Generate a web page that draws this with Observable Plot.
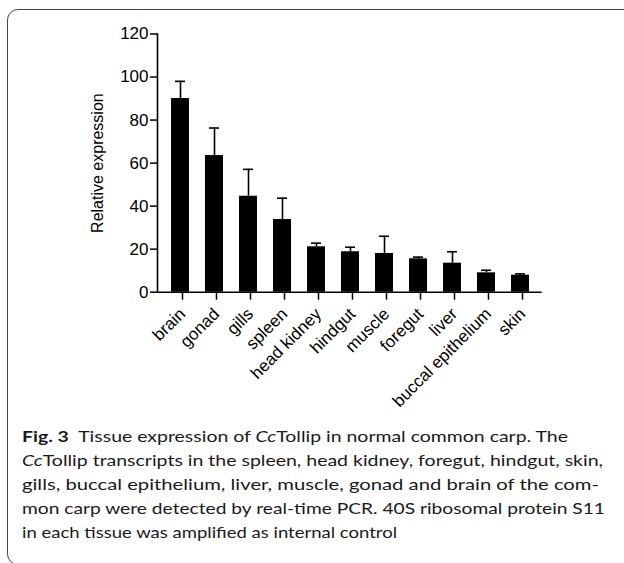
<!DOCTYPE html>
<html>
<head>
<meta charset="utf-8">
<script src="https://cdn.jsdelivr.net/npm/d3@7"></script>
<script src="https://cdn.jsdelivr.net/npm/@observablehq/plot@0.6"></script>
<style>
  html, body { margin: 0; padding: 0; background: #fff; }
  body { width: 624px; height: 563px; position: relative; overflow: hidden; }
  #box { position: absolute; left: 6.5px; top: 9px; width: 640px; height: 556px;
         border: 1.3px solid #444; border-radius: 11px; box-sizing: border-box; }
  #chart { position: absolute; left: 0; top: 0; }
  #chart svg text { font-family: "Liberation Sans", Arial, sans-serif !important; }
  #chart svg .ytl text { font-size: 17px !important; }
  #chart svg .xtl text { font-size: 17px !important; }
  #chart svg .ylab text { font-size: 17px !important; }
  #caption { position: absolute; left: 22px; top: 424.3px; font-family: "Lato", sans-serif;
             font-size: 15px; line-height: 24px; color: #1a1a1a; }
  #caption .ln { white-space: nowrap; transform-origin: 0 50%; }
  #caption .ln span { display: inline-block; }
</style>
</head>
<body>
<div id="box"></div>
<div id="chart"></div>
<div id="caption">
  <div class="ln" data-w="546"><span><b>Fig. 3</b>&nbsp; Tissue expression of <i>Cc</i>Tollip in normal common carp. The</span></div>
  <div class="ln" data-w="581"><span><i>Cc</i>Tollip transcripts in the spleen, head kidney, foregut, hindgut, skin,</span></div>
  <div class="ln" data-w="577"><span>gills, buccal epithelium, liver, muscle, gonad and brain of the com-</span></div>
  <div class="ln" data-w="583"><span>mon carp were detected by real-time PCR. 40S ribosomal protein S11</span></div>
  <div class="ln" data-w="375"><span>in each tissue was amplified as internal control</span></div>
</div>
<script>
const tissues = ["brain", "gonad", "gills", "spleen", "head kidney", "hindgut", "muscle", "foregut", "liver", "buccal epithelium", "skin"];
const means = [90, 63.5, 44.6, 33.8, 21.1, 18.8, 18.0, 15.5, 13.5, 9.0, 7.9];
const errors = [8, 12.8, 12.5, 9.9, 1.7, 2.1, 8.0, 0.8, 5.3, 1.2, 0.6];
const yTicks = [0, 20, 40, 60, 80, 100, 120];

const data = tissues.map((t, i) => ({tissue: t, mean: means[i], top: means[i] + errors[i]}));

const chart = Plot.plot({
  width: 624,
  height: 425,
  marginLeft: 157,
  marginRight: 82.4,
  marginTop: 33.5,
  marginBottom: 133.3,
  style: {fontFamily: "'Liberation Sans', Arial, sans-serif", fontSize: "16px", color: "#000", background: "transparent"},
  x: {domain: tissues, paddingInner: 0.483, paddingOuter: 0.27},
  y: {domain: [0, 120]},
  marks: [
    Plot.ruleX(data, {x: "tissue", y1: "mean", y2: "top", stroke: "#000", strokeWidth: 1.6}),
    Plot.tickY(data, {x: "tissue", y: "top", stroke: "#000", strokeWidth: 1.6, insetLeft: 4, insetRight: 4}),
    Plot.barY(data, {x: "tissue", y: "mean", fill: "#000"}),
    Plot.axisY({ticks: yTicks, tickSize: 7, tickPadding: 2, strokeWidth: 1.5, label: null, className: "ytl"}),
    Plot.axisY({ticks: [], label: "Relative expression", labelAnchor: "center", labelArrow: false, labelOffset: 66, className: "ylab"}),
    Plot.axisX({tickRotate: -45, tickSize: 8, tickPadding: 11, dx: 2, strokeWidth: 1.5, label: null, className: "xtl"}),
    Plot.frame({anchor: "left", stroke: "#000", strokeWidth: 1.6}),
    Plot.ruleY([0], {stroke: "#000", strokeWidth: 1.6})
  ]
});
document.getElementById("chart").appendChild(chart);

document.querySelectorAll("#caption .ln").forEach(ln => {
  const span = ln.querySelector("span");
  const target = +ln.dataset.w;
  const w = span.getBoundingClientRect().width;
  ln.style.transform = `scaleX(${target / w})`;
});
</script>
</body>
</html>
